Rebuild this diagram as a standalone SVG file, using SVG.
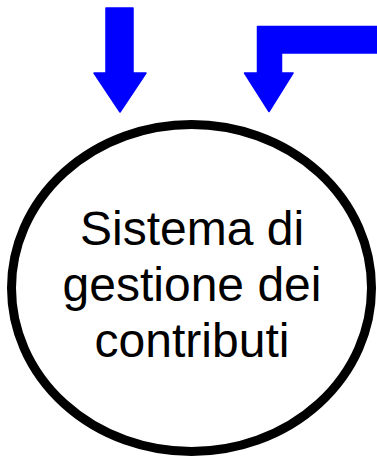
<svg xmlns="http://www.w3.org/2000/svg" width="377" height="456" viewBox="0 0 377 456">
<style>
.flow{fill:#0000FF;stroke:#0000FF;stroke-width:1.5;stroke-linejoin:round}
.node{fill:#FFFFFF;stroke:#000000;stroke-width:9}
.label{font-family:"Liberation Sans",Arial,sans-serif;font-size:48px;fill:#000000;text-anchor:middle}
</style>
<rect width="377" height="456" fill="#FFFFFF"/>
<g id="connectors">
<path class="flow" d="M106,8 L133,8 L133,73 L146,73 L120,112 L94,73 L106,73 Z"/>
<path class="flow" d="M377,26.5 L257.5,26.5 L257.5,73 L244.5,73 L269,111.5 L293,73 L281.5,73 L281.5,53 L377,53 Z"/>
</g>
<g id="node-sistema">
<ellipse class="node" cx="191.5" cy="288" rx="180" ry="163.5"/>
<text class="label" x="192" y="245">Sistema di</text>
<text class="label" x="192" y="301">gestione dei</text>
<text class="label" x="192" y="357">contributi</text>
</g>
</svg>
